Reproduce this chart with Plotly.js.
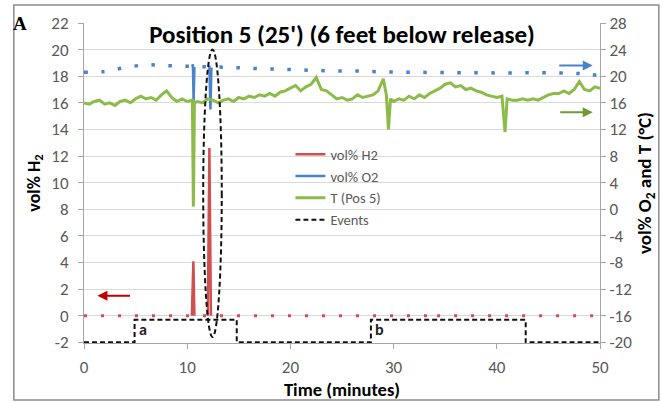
<!DOCTYPE html>
<html>
<head>
<meta charset="utf-8">
<script src="https://cdn.plot.ly/plotly-3.0.1.min.js"></script>
<style>html,body{margin:0;padding:0;background:#fff;}#chart{width:662px;height:402px;}</style>
</head>
<body>
<div id="chart"></div>
<script>
// ---- Data ----
// Time axis (minutes)
var xTicks = [0, 10, 20, 30, 40, 50];
var yLeftTicks = [-2, 0, 2, 4, 6, 8, 10, 12, 14, 16, 18, 20, 22];
var yRightTicks = [-20, -16, -12, -8, -4, 0, 4, 8, 12, 16, 20, 24, 28];

// vol% H2 baseline (dotted) and release spikes (solid), left axis
var h2BaseTime = [0, 10, 20, 30, 33.4, 33.7, 34.0, 40, 50];
var h2BaseVal  = [0, 0, 0, 0, 0, 0.3, 0, 0, 0];
var h2SpikeTime = [10.45, 10.6, 10.7, null, 12.0, 12.15, 12.3];
var h2SpikeVal  = [0, 4.1, 0, null, 0, 12.6, 0];

// vol% O2 baseline (dotted) and release spikes (solid), right axis
var o2BaseTime = [0, 2, 4, 6, 8, 10, 12, 14, 16, 18, 20, 22, 24, 26, 28, 30, 32, 34, 36, 38, 40, 42, 44, 46, 48, 50];
var o2BaseVal  = [20.6, 20.7, 21.3, 21.7, 21.6, 21.5, 21.4, 21.34, 21.2, 21.1, 21.0, 20.9, 20.8, 20.8, 20.7, 20.64, 20.6, 20.56, 20.54, 20.52, 20.5, 20.5, 20.52, 20.5, 20.4, 20.1];
var o2SpikeTime = [10.5, 10.55, 10.62, 10.7, null, 12.1, 12.15, 12.25, 12.35];
var o2SpikeVal  = [21.4, 21.8, 16.2, 21.4, null, 21.4, 21.6, 15.0, 21.3];

// Temperature at position 5 (deg C), right axis
var tTime = [0, 0.5, 1, 1.5, 2, 2.5, 3, 3.5, 4, 4.5, 5, 5.5, 6, 6.5, 7, 7.5, 8, 8.5, 9, 9.5, 10, 10.5, 10.6, 10.7, 11, 11.5, 12, 12.5, 13, 13.5, 14, 14.5, 15, 15.5, 16, 16.5, 17, 17.5, 18, 18.5, 19, 19.5, 20, 20.5, 21, 21.5, 22, 22.5, 23, 23.5, 24, 24.5, 25, 25.5, 26, 26.5, 27, 27.5, 28, 28.5, 29, 29.3, 29.5, 29.7, 30, 30.5, 31, 31.5, 32, 32.5, 33, 33.5, 34, 34.5, 35, 35.5, 36, 36.5, 37, 37.5, 38, 38.5, 39, 39.5, 40, 40.5, 40.8, 41, 41.5, 42, 42.5, 43, 43.5, 44, 44.5, 45, 45.5, 46, 46.5, 47, 47.5, 48, 48.5, 49, 49.5, 50];
var tVal = [16.0, 15.8, 16.2, 16.4, 15.8, 16.0, 15.6, 16.2, 16.4, 16.0, 16.6, 17.0, 16.6, 16.8, 16.4, 17.2, 17.8, 16.8, 16.2, 16.6, 16.2, 16.4, 0.4, 16.0, 16.2, 16.0, 16.6, 16.4, 16.0, 16.4, 16.6, 16.2, 16.8, 16.6, 17.0, 16.8, 17.2, 17.0, 17.4, 17.0, 17.6, 17.8, 18.2, 18.6, 17.8, 18.4, 18.8, 19.8, 18.0, 17.8, 17.2, 16.6, 16.8, 16.4, 16.6, 17.2, 16.8, 17.0, 17.2, 17.8, 19.6, 17.2, 12.0, 16.6, 16.2, 16.6, 16.4, 17.0, 16.6, 17.2, 16.8, 17.4, 17.8, 18.2, 18.8, 19.0, 18.4, 18.6, 18.0, 18.2, 17.8, 17.6, 17.2, 17.0, 16.8, 17.0, 11.6, 16.6, 16.4, 16.4, 16.6, 16.4, 16.6, 16.4, 16.8, 17.2, 17.4, 17.4, 17.8, 17.4, 18.0, 19.2, 18.0, 17.8, 18.4, 18.2];

// Events (left axis)
var evTime = [0, 4.9, 4.9, 14.8, 14.8, 27.8, 27.8, 42.8, 42.8, 50];
var evVal  = [-2, -2, -0.3, -0.3, -2, -2, -0.3, -0.3, -2, -2];
var eventLabels = ["a", "b"];
var eventLabelTime = [5.7, 28.6];
var eventLabelVal = [-1.0, -1.0];

// Highlight ellipse (time range, left-axis value range)
var ellipseTime = [11.55, 13.35];
var ellipseVal = [-1.6, 20.0];

// Axis indicator arrows [tailTime, headTime, value]
var arrowBlue = [45.9, 49.3, 18.8];
var arrowGreen = [46.0, 49.3, 15.3];
var arrowRed = [4.6, 1.3, 1.5];

// ---- Styles ----
var RED = '#d0504f', BLUE = '#4a82cc', GREEN = '#8cbb4a';
var FAM = 'Carlito, "Liberation Sans Narrow", "Liberation Sans", sans-serif';
var TICKFONT = {family: FAM, size: 17, color: '#595959'};

var traces = [
  {x: h2BaseTime, y: h2BaseVal, mode: 'lines', yaxis: 'y', showlegend: false, hoverinfo: 'skip',
   line: {color: RED, width: 3, dash: '3px,14px'}},
  {x: o2BaseTime, y: o2BaseVal, mode: 'lines', yaxis: 'y2', showlegend: false, hoverinfo: 'skip',
   line: {color: BLUE, width: 3.5, dash: '3.5px,13.5px', shape: 'spline'}},
  {x: h2SpikeTime, y: h2SpikeVal, name: 'vol% H2', mode: 'lines', yaxis: 'y',
   line: {color: RED, width: 2.5}},
  {x: o2SpikeTime, y: o2SpikeVal, name: 'vol% O2', mode: 'lines', yaxis: 'y2',
   line: {color: BLUE, width: 2.5}},
  {x: tTime, y: tVal, name: 'T (Pos 5)', mode: 'lines', yaxis: 'y2',
   line: {color: GREEN, width: 3}},
  {x: evTime, y: evVal, name: 'Events', mode: 'lines', yaxis: 'y',
   line: {color: '#111', width: 2, dash: '5px,3px'}}
];

var annotations = [
  {xref: 'paper', yref: 'paper', x: -0.124, y: 1.0, text: '<b>A</b>', showarrow: false,
   font: {family: '"Liberation Serif", "DejaVu Serif", serif', size: 19, color: '#000'}, xanchor: 'center', yanchor: 'middle'}
];
for (var i = 0; i < eventLabels.length; i++) {
  annotations.push({x: eventLabelTime[i], y: eventLabelVal[i], xref: 'x', yref: 'y', text: '<b>' + eventLabels[i] + '</b>',
    showarrow: false, font: {family: FAM, size: 16, color: '#222'}, xanchor: 'center', yanchor: 'middle'});
}
[[arrowBlue, BLUE], [arrowGreen, '#6f9a35'], [arrowRed, '#c00000']].forEach(function (a) {
  annotations.push({x: a[0][1], y: a[0][2], ax: a[0][0], ay: a[0][2], xref: 'x', yref: 'y', axref: 'x', ayref: 'y',
    showarrow: true, arrowhead: 2, arrowsize: 1, arrowwidth: 2, arrowcolor: a[1], text: ''});
});

var layout = {
  width: 662, height: 402,
  margin: {l: 84, r: 62, t: 23, b: 59},
  paper_bgcolor: '#fff', plot_bgcolor: '#fff',
  title: {text: '<b>Position 5 (25\') (6 feet below release)</b>', font: {family: FAM, size: 25, color: '#000'},
          x: 0.5, xref: 'paper', xanchor: 'center', y: 0.915, yref: 'container', yanchor: 'middle'},
  showlegend: true,
  legend: {x: 0.4, y: 0.64, xanchor: 'left', yanchor: 'top', bgcolor: 'rgba(0,0,0,0)',
           font: {family: FAM, size: 14.5, color: '#595959'}, tracegroupgap: 0},
  xaxis: {range: [0, 50], tickvals: xTicks, ticktext: xTicks.map(String), showgrid: false, zeroline: false,
          showline: true, linecolor: '#a6a6a6', linewidth: 1, ticks: 'outside', ticklen: 5, tickcolor: '#a6a6a6',
          tickfont: TICKFONT, ticklabelstandoff: 4,
          title: {text: '<b>Time (minutes)</b>', font: {family: FAM, size: 18.5, color: '#000'}, standoff: 1}},
  yaxis: {range: [-2.05, 22], tickvals: yLeftTicks, ticktext: yLeftTicks.map(String), showgrid: true,
          gridcolor: '#d9d9d9', gridwidth: 1, zeroline: false, showline: true, linecolor: '#a6a6a6',
          ticks: 'outside', ticklen: 5, tickcolor: '#a6a6a6', tickfont: TICKFONT, ticklabelstandoff: 6,
          title: {text: '<b>vol% H<sub>2</sub></b>', font: {family: FAM, size: 18, color: '#000'}, standoff: 6}},
  yaxis2: {range: [-20.1, 28], tickvals: yRightTicks, ticktext: yRightTicks.map(String), overlaying: 'y', side: 'right',
           showgrid: false, zeroline: false, showline: true, linecolor: '#a6a6a6',
           ticks: 'outside', ticklen: 5, tickcolor: '#a6a6a6', tickfont: TICKFONT,
           title: {text: '<b>vol% O<sub>2</sub> and T (°C)</b>', font: {family: FAM, size: 19, color: '#000'}, standoff: 6}},
  shapes: [
    {type: 'circle', xref: 'x', yref: 'y', x0: ellipseTime[0], x1: ellipseTime[1], y0: ellipseVal[0], y1: ellipseVal[1],
     line: {color: '#111', width: 2, dash: '5px,3px'}},
    {type: 'rect', xref: 'paper', yref: 'paper', x0: -0.136, x1: 1.114, y0: -0.178, y1: 1.056,
     line: {color: '#8c8c8c', width: 1.5}, layer: 'below'}
  ],
  annotations: annotations
};

Plotly.newPlot('chart', traces, layout, {displayModeBar: false, staticPlot: true});
</script>
</body>
</html>
